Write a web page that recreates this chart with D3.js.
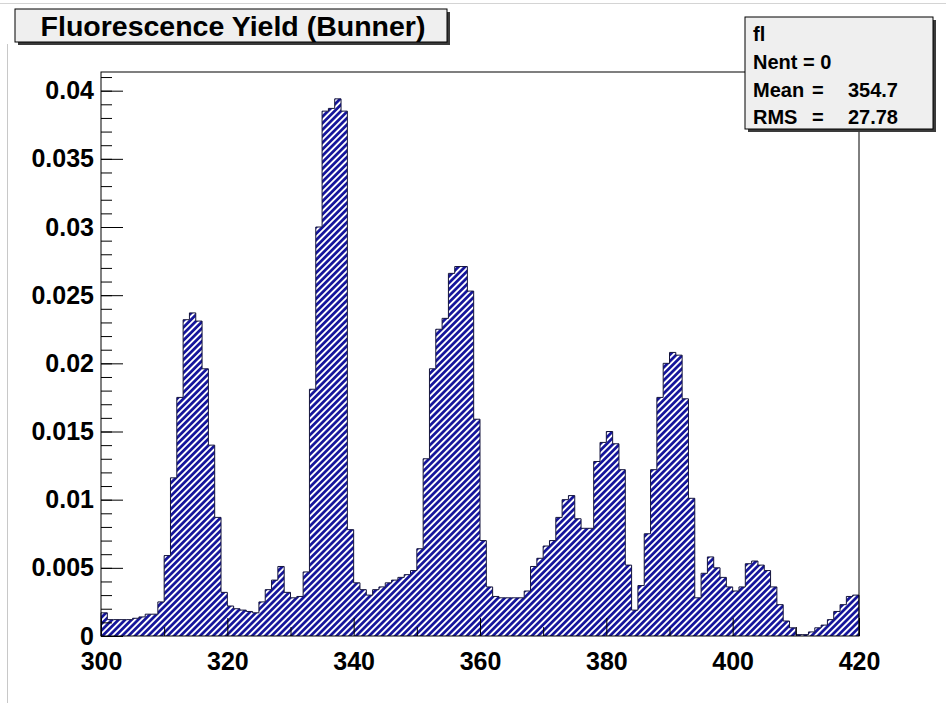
<!DOCTYPE html>
<html>
<head>
<meta charset="utf-8">
<script src="https://cdn.jsdelivr.net/npm/d3@7"></script>
<style>
  body { margin: 0; background: #fff; }
  svg { display: block; font-family: "Liberation Sans", Arial, Helvetica, sans-serif; font-weight: bold; }
</style>
</head>
<body>
<script>
const title = "Fluorescence Yield (Bunner)"
const histName = "fl"

// one bin per nm, 300 -> 420
const binEdgesNm = [300, 420]
const fluorYield = [
  0.0017, 0.0012, 0.0012, 0.0012, 0.0012, 0.0013, 0.0014, 0.0016, 0.0016, 0.0025,
  0.0059, 0.0116, 0.0175, 0.0232, 0.0237, 0.0231, 0.0196, 0.0140, 0.0087, 0.0032,
  0.0022, 0.0020, 0.0019, 0.0018, 0.0017, 0.0025, 0.0034, 0.0041, 0.0051, 0.0032,
  0.0028, 0.0029, 0.0047, 0.0181, 0.0300, 0.0385, 0.0387, 0.0394, 0.0385, 0.0078,
  0.0039, 0.0034, 0.0030, 0.0034, 0.0036, 0.0039, 0.0041, 0.0043, 0.0045, 0.0048,
  0.0064, 0.0130, 0.0196, 0.0225, 0.0233, 0.0266, 0.0271, 0.0271, 0.0253, 0.0159,
  0.0070, 0.0036, 0.0029, 0.0028, 0.0028, 0.0028, 0.0028, 0.0033, 0.0051, 0.0057,
  0.0066, 0.0070, 0.0087, 0.0100, 0.0103, 0.0086, 0.0079, 0.0079, 0.0128, 0.0142,
  0.0150, 0.0141, 0.0122, 0.0052, 0.0019, 0.0037, 0.0075, 0.0122, 0.0175, 0.0200,
  0.0208, 0.0206, 0.0174, 0.0101, 0.0028, 0.0046, 0.0058, 0.0050, 0.0043, 0.0036,
  0.0033, 0.0036, 0.0053, 0.0055, 0.0052, 0.0048, 0.0036, 0.0023, 0.0011, 0.0006,
  0.0001, 0.0001, 0.0003, 0.0006, 0.0008, 0.0012, 0.0018, 0.0023, 0.0029, 0.0030
]

const xTicks = [300, 320, 340, 360, 380, 400, 420]
const xMinorTicks = [310, 330, 350, 370, 390, 410]
const yTicks = [0, 0.005, 0.01, 0.015, 0.02, 0.025, 0.03, 0.035, 0.04]
const yTickLabels = ["0", "0.005", "0.01", "0.015", "0.02", "0.025", "0.03", "0.035", "0.04"]

const statNames = ["Nent", "Mean", "RMS"]
const statValues = ["0", "354.7", "27.78"]

const width = 946
const height = 703
const frame = { left: 101, right: 859, top: 72, bottom: 636 }

function drawChart() {
    const svg = d3.select("body").append("svg")
        .attr("width", width)
        .attr("height", height)

    svg.append("rect").attr("width", width).attr("height", height).attr("fill", "#fff")

    // pad borders of the canvas window
    svg.append("line").attr("x1", 0).attr("x2", width).attr("y1", 3.5).attr("y2", 3.5)
        .attr("stroke", "#d4d4d4")
    svg.append("line").attr("x1", 7.5).attr("x2", 7.5).attr("y1", 44).attr("y2", height)
        .attr("stroke", "#c8c8c8")

    const defs = svg.append("defs")
    const hatch = defs.append("pattern")
        .attr("id", "hatch")
        .attr("patternUnits", "userSpaceOnUse")
        .attr("width", 4.6)
        .attr("height", 4.6)
        .attr("patternTransform", "rotate(45)")
    hatch.append("rect").attr("width", 4.6).attr("height", 4.6).attr("fill", "#fff")
    hatch.append("line")
        .attr("x1", 2.3).attr("x2", 2.3).attr("y1", 0).attr("y2", 4.6)
        .attr("stroke", "#12129a")
        .attr("stroke-width", 2.7)

    const x = d3.scaleLinear().domain(binEdgesNm).range([frame.left, frame.right])
    const yMax = d3.max(fluorYield) * 1.05
    const y = d3.scaleLinear().domain([0, yMax]).range([frame.bottom, frame.top])

    const bins = fluorYield.map((v, i) => ({ nm: binEdgesNm[0] + i, v: v }))
    const stepPts = bins.concat([{ nm: binEdgesNm[1], v: fluorYield[fluorYield.length - 1] }])

    const area = d3.area()
        .curve(d3.curveStepAfter)
        .x(d => x(d.nm))
        .y0(y(0))
        .y1(d => y(d.v))

    svg.append("path")
        .datum(stepPts)
        .attr("d", area)
        .attr("fill", "url(#hatch)")

    const outlinePts = [{ nm: binEdgesNm[0], v: 0 }].concat(stepPts, [{ nm: binEdgesNm[1], v: 0 }])
    const line = d3.line()
        .curve(d3.curveStepAfter)
        .x(d => x(d.nm))
        .y(d => y(d.v))

    svg.append("path")
        .datum(outlinePts)
        .attr("d", line)
        .attr("fill", "none")
        .attr("stroke", "#14143c")
        .attr("stroke-width", 1)

    // frame
    svg.append("rect")
        .attr("x", frame.left)
        .attr("y", frame.top)
        .attr("width", frame.right - frame.left)
        .attr("height", frame.bottom - frame.top)
        .attr("fill", "none")
        .attr("stroke", "#000")

    // y axis, ticks pointing inside
    const yMinor = d3.range(0, 42).map(i => i * 0.001).filter(v => v <= yMax)
    svg.append("g")
        .attr("transform", `translate(${frame.left},0)`)
        .call(d3.axisLeft(y).tickValues(yMinor).tickSizeInner(-11).tickSizeOuter(0).tickFormat(""))
        .call(g => g.select(".domain").remove())

    svg.append("g")
        .attr("class", "yaxis")
        .attr("transform", `translate(${frame.left},0)`)
        .call(d3.axisLeft(y).tickValues(yTicks).tickSizeInner(-22).tickSizeOuter(0).tickPadding(7)
            .tickFormat((d, i) => yTickLabels[i]))
        .call(g => g.select(".domain").remove())

    // x axis, ticks pointing up
    svg.append("g")
        .attr("transform", `translate(0,${frame.bottom})`)
        .call(d3.axisBottom(x).tickValues(xMinorTicks).tickSizeInner(-9).tickSizeOuter(0).tickFormat(""))
        .call(g => g.select(".domain").remove())

    svg.append("g")
        .attr("class", "xaxis")
        .attr("transform", `translate(0,${frame.bottom})`)
        .call(d3.axisBottom(x).tickValues(xTicks).tickSizeInner(-18).tickSizeOuter(0).tickPadding(16))
        .call(g => g.select(".domain").remove())

    svg.selectAll(".tick line").attr("stroke", "#000")
    svg.selectAll(".yaxis text, .xaxis text")
        .attr("font-family", "'Liberation Sans', Arial, sans-serif")
        .attr("font-weight", "bold")
        .attr("font-size", 25)
        .attr("fill", "#000")

    drawTitle(svg)
    drawStats(svg)
}

function drawTitle(svg) {
    const box = { x: 15, y: 9, w: 432, h: 33 }
    svg.append("rect")
        .attr("x", box.x + 3).attr("y", box.y + 3)
        .attr("width", box.w).attr("height", box.h)
        .attr("fill", "#3a3a3a")
    svg.append("rect")
        .attr("x", box.x).attr("y", box.y)
        .attr("width", box.w).attr("height", box.h)
        .attr("fill", "#efefef")
        .attr("stroke", "#000")
    svg.append("text")
        .attr("x", box.x + box.w / 2 + 2)
        .attr("y", box.y + 27)
        .attr("text-anchor", "middle")
        .attr("font-size", 28.5)
        .attr("fill", "#000")
        .text(title)
}

function drawStats(svg) {
    const box = { x: 745, y: 17, w: 188, h: 112 }
    svg.append("rect")
        .attr("x", box.x + 3).attr("y", box.y + 3)
        .attr("width", box.w).attr("height", box.h)
        .attr("fill", "#3a3a3a")
    svg.append("rect")
        .attr("x", box.x).attr("y", box.y)
        .attr("width", box.w).attr("height", box.h)
        .attr("fill", "#efefef")
        .attr("stroke", "#000")

    const rowY = [41, 69, 97, 124]
    const g = svg.append("g").attr("font-size", 20).attr("fill", "#000")
    g.append("text").attr("x", 753).attr("y", rowY[0]).text(histName)
    statNames.forEach((name, i) => {
        if (i == 0) {
            g.append("text").attr("x", 753).attr("y", rowY[1]).text(name + " = " + statValues[0])
            return
        }
        g.append("text").attr("x", 753).attr("y", rowY[i + 1]).text(name)
        g.append("text").attr("x", 812).attr("y", rowY[i + 1]).text("=")
        g.append("text").attr("x", 898).attr("y", rowY[i + 1]).attr("text-anchor", "end").text(statValues[i])
    })
}

drawChart()
</script>
</body>
</html>
